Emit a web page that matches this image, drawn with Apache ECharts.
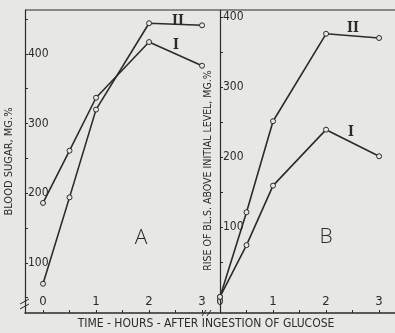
<!DOCTYPE html>
<html>
<head>
<meta charset="utf-8">
<script src="https://cdn.jsdelivr.net/npm/echarts@6/dist/echarts.min.js"></script>
<style>
  html, body { margin: 0; padding: 0; background: #e7e7e3; }
  #chart { width: 395px; height: 333px; }
</style>
</head>
<body>
<div id="chart"></div>
<script>
// hours after glucose
var hours = [0, 0.5, 1, 2, 3];
// panel A: blood sugar, mg.%
var aCurveI = [186, 261, 337, 417, 383];
var aCurveII = [70, 194, 320, 444, 441];
// panel B: rise above initial level, mg.%
var bCurveI = [0, 74, 159, 239, 201];
var bCurveII = [0, 121, 251, 376, 370];
// tick labels
var hourTicks = [0, 1, 2, 3];
var hourMinor = [0, 0.5, 1, 1.5, 2, 2.5, 3];
var aSugarTicks = [100, 200, 300, 400];
var aSugarMinor = [50, 100, 150, 200, 250, 300, 350, 400, 450];
var bRiseTicks = [100, 200, 300, 400];
var bRiseMinor = [50, 100, 150, 200, 250, 300, 350, 400];

var ink = '#2b2b2b';
var font = '"Liberation Sans Narrow", "DejaVu Sans Condensed", sans-serif';

function pairs(ys) {
  return hours.map(function (h, i) { return [h, ys[i]]; });
}

function xAxisOf(idx, min, max) {
  return {
    type: 'value', gridIndex: idx, min: min, max: max,
    axisLine: { show: true, onZero: false, lineStyle: { color: ink, width: 1.5 } },
    axisTick: { show: true, inside: true, length: 3, customValues: hourMinor, lineStyle: { color: ink } },
    axisLabel: { inside: true, margin: 5, customValues: hourTicks, color: ink, fontFamily: font, fontSize: 13 },
    splitLine: { show: false }
  };
}

function yAxisOf(idx, min, max, ticks, minor, name, gap, nameSize, namePad) {
  return {
    type: 'value', gridIndex: idx, min: min, max: max,
    name: name, nameLocation: 'middle', nameGap: gap, nameRotate: 90,
    nameTextStyle: { color: ink, fontFamily: font, fontSize: nameSize, padding: namePad },
    axisLine: { show: true, onZero: false, lineStyle: { color: ink, width: 1.2 } },
    axisTick: { show: true, inside: true, length: 3, customValues: minor, lineStyle: { color: ink } },
    axisLabel: { inside: true, margin: 3, customValues: ticks, color: ink, fontFamily: font, fontSize: 12 },
    splitLine: { show: false }
  };
}

function curve(name, xi, yi, ys) {
  return {
    name: name, type: 'line', xAxisIndex: xi, yAxisIndex: yi,
    data: pairs(ys), symbol: 'circle', symbolSize: 5,
    lineStyle: { color: ink, width: 1.6 },
    itemStyle: { color: '#e7e7e3', borderColor: ink, borderWidth: 1 },
    animation: false
  };
}

var chart = echarts.init(document.getElementById('chart'));
chart.setOption({
  backgroundColor: '#e7e7e3',
  animation: false,
  grid: [
    { left: 25, top: 10, width: 194, height: 303 },
    { left: 220, top: 10, width: 175, height: 303 }
  ],
  xAxis: [xAxisOf(0, -0.34, 3.32), xAxisOf(1, 0, 3.3)],
  yAxis: [
    yAxisOf(0, 28, 463, aSugarTicks, aSugarMinor, 'BLOOD SUGAR, MG.%', 10, 11, [0, 0, 0, 0]),
    yAxisOf(1, -23, 410, bRiseTicks, bRiseMinor, 'RISE OF BL.S. ABOVE INITIAL LEVEL, MG.%', 6, 10.5, [0, 18, 0, 0])
  ],
  series: [
    curve('A I', 0, 0, aCurveI),
    curve('A II', 0, 0, aCurveII),
    curve('B I', 1, 1, bCurveI),
    curve('B II', 1, 1, bCurveII)
  ],
  graphic: [
    { type: 'line', shape: { x1: 25, y1: 10, x2: 395, y2: 10 }, style: { stroke: ink, lineWidth: 1.2 } },
    // axis breaks
    { type: 'rect', shape: { x: 203, y: 310, width: 8, height: 6 }, style: { fill: '#e7e7e3' } },
    { type: 'line', shape: { x1: 202, y1: 316, x2: 206, y2: 310 }, style: { stroke: ink, lineWidth: 1 } },
    { type: 'line', shape: { x1: 207, y1: 316, x2: 211, y2: 310 }, style: { stroke: ink, lineWidth: 1 } },
    { type: 'rect', shape: { x: 22, y: 301, width: 6, height: 5 }, style: { fill: '#e7e7e3' } },
    { type: 'line', shape: { x1: 20, y1: 304, x2: 29, y2: 299 }, style: { stroke: ink, lineWidth: 1 } },
    { type: 'line', shape: { x1: 20, y1: 309, x2: 29, y2: 304 }, style: { stroke: ink, lineWidth: 1 } },
    // curve labels
    { type: 'text', x: 178, y: 21, style: { text: 'II', fill: ink, font: 'bold 14px "DejaVu Serif Condensed", serif', align: 'center', verticalAlign: 'middle' } },
    { type: 'text', x: 176, y: 45, style: { text: 'I', fill: ink, font: 'bold 14px "DejaVu Serif Condensed", serif', align: 'center', verticalAlign: 'middle' } },
    { type: 'text', x: 353, y: 28, style: { text: 'II', fill: ink, font: 'bold 14px "DejaVu Serif Condensed", serif', align: 'center', verticalAlign: 'middle' } },
    { type: 'text', x: 351, y: 132, style: { text: 'I', fill: ink, font: 'bold 14px "DejaVu Serif Condensed", serif', align: 'center', verticalAlign: 'middle' } },
    // panel letters
    { type: 'text', x: 141, y: 238, style: { text: 'A', fill: ink, font: '300 21px "Open Sans", sans-serif', align: 'center', verticalAlign: 'middle' } },
    { type: 'text', x: 326, y: 237, style: { text: 'B', fill: ink, font: '300 21px "Open Sans", sans-serif', align: 'center', verticalAlign: 'middle' } },
    // shared x-axis title
    { type: 'text', x: 206, y: 324, style: { text: 'TIME - HOURS - AFTER INGESTION OF GLUCOSE', fill: ink, font: '12px ' + font, align: 'center', verticalAlign: 'middle' } }
  ]
});
</script>
</body>
</html>
